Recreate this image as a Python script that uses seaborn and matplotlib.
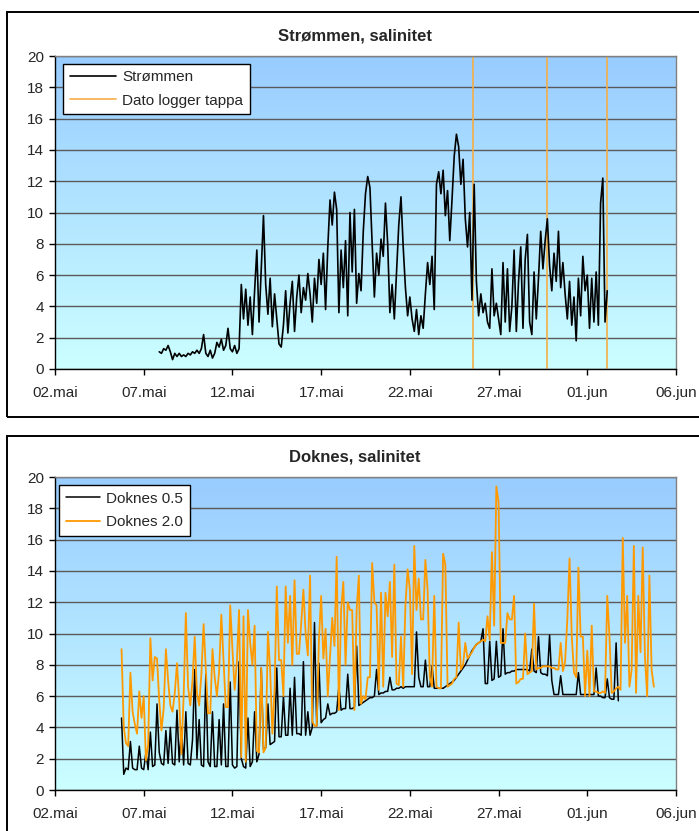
import numpy as np
import pandas as pd
import matplotlib
matplotlib.use('Agg')
import matplotlib.pyplot as plt
from matplotlib.patches import Rectangle
from matplotlib.colors import LinearSegmentedColormap
import seaborn as sns

# time axis: days after 02.mai, logger readings every 3 hours
step = 0.125

# Strømmen salinity, first reading at day 5.875
strommen_start = 5.875
strommen = [
    1.1, 1.0, 1.3, 1.2, 1.5, 1.1, 0.6, 1.0,
    0.8, 1.0, 0.8, 0.9, 0.8, 1.0, 0.9, 1.1,
    1.0, 1.2, 1.0, 1.3, 2.2, 1.0, 0.8, 1.2,
    0.7, 1.0, 1.7, 1.4, 1.9, 1.2, 1.5, 2.6,
    1.3, 1.1, 1.5, 1.0, 1.3, 5.4, 3.2, 5.1,
    2.8, 4.6, 2.2, 5.0, 7.6, 3.0, 6.4, 9.8,
    5.4, 3.5, 5.8, 2.7, 4.8, 3.2, 1.6, 1.4,
    2.8, 5.0, 2.3, 4.2, 5.6, 2.4, 4.6, 6.0,
    3.6, 5.2, 4.4, 6.1, 4.8, 3.0, 5.8, 4.2,
    7.0, 5.4, 7.4, 3.8, 7.8, 10.8, 9.2, 11.3,
    10.2, 3.6, 7.6, 5.2, 8.2, 3.4, 10.0, 6.2,
    10.2, 4.2, 6.1, 5.0, 8.8, 11.2, 12.3, 11.6,
    8.0, 4.6, 7.4, 6.0, 8.3, 7.2, 10.6, 8.0,
    3.6, 5.4, 3.2, 6.2, 9.2, 11.0, 7.8, 5.2,
    3.4, 4.6, 3.2, 2.4, 3.8, 2.2, 3.4, 2.6,
    4.8, 6.8, 5.4, 7.2, 3.8, 11.8, 12.6, 11.2,
    12.7, 9.8, 11.4, 8.2, 10.8, 13.6, 15.0, 14.2,
    11.8, 13.4, 9.6, 7.8, 10.0, 4.4, 11.8, 5.6,
    3.4, 4.8, 3.6, 4.2, 3.0, 2.6, 6.4, 3.4,
    4.2, 3.2, 2.2, 6.8, 3.0, 6.4, 2.4, 4.0,
    7.6, 2.4, 5.6, 7.8, 2.6, 7.0, 8.6, 3.0,
    2.2, 6.2, 3.2, 5.8, 8.8, 6.4, 8.2, 9.6,
    6.6, 5.0, 7.4, 5.6, 8.8, 5.2, 6.8, 4.8,
    3.2, 5.6, 2.8, 4.6, 1.8, 5.8, 3.4, 7.2,
    5.0, 6.0, 2.6, 5.8, 3.0, 6.2, 2.8, 10.6,
    12.2, 3.0, 5.0,
]
logger_tappa = [23.58, 27.72, 31.10]

# Doknes salinity at 0.5 m and 2.0 m, first reading at day 3.75
doknes_start = 3.75
doknes_05 = [
    4.6, 1.0, 1.4, 1.3, 3.1, 1.4, 1.3, 1.3,
    2.8, 1.4, 1.3, 2.4, 1.3, 3.7, 1.5, 1.6,
    5.5, 2.4, 1.7, 1.6, 3.8, 1.7, 4.0, 1.7,
    1.6, 5.1, 1.8, 4.0, 1.6, 5.0, 1.7, 1.6,
    3.2, 7.7, 2.0, 4.5, 1.6, 1.5, 7.4, 1.8,
    1.5, 5.0, 1.5, 1.5, 4.5, 1.6, 5.5, 1.5,
    1.5, 6.9, 1.6, 1.4, 1.5, 8.2, 2.0, 1.5,
    1.4, 4.6, 1.5, 1.8, 5.0, 1.8, 2.3, 7.8,
    2.6, 2.7, 5.5, 2.9, 3.0, 3.1, 7.8, 3.4,
    3.4, 6.0, 3.5, 3.5, 6.5, 3.5, 7.2, 3.6,
    3.6, 3.5, 8.2, 3.5, 5.0, 3.5, 4.0, 10.7,
    4.1, 8.1, 4.3, 4.5, 4.6, 5.5, 4.8, 4.9,
    4.9, 5.0, 6.6, 5.1, 5.2, 5.2, 7.4, 5.2,
    5.2, 5.3, 9.2, 5.4, 5.5, 5.6, 5.7, 5.8,
    5.9, 5.9, 6.0, 7.7, 6.1, 6.2, 6.2, 6.3,
    6.3, 7.2, 6.4, 6.4, 6.5, 6.5, 6.6, 6.5,
    6.6, 6.6, 6.6, 6.6, 6.6, 10.1, 7.2, 6.6,
    6.6, 8.3, 6.6, 6.6, 7.9, 6.5, 6.5, 6.5,
    6.5, 6.5, 6.6, 6.7, 6.8, 6.9, 7.0, 7.2,
    7.4, 7.6, 7.8, 8.0, 8.3, 8.6, 8.9, 9.1,
    9.3, 9.4, 9.5, 10.3, 6.8, 6.8, 9.5, 7.0,
    7.1, 9.5, 7.2, 7.3, 10.3, 7.4, 7.5, 7.5,
    7.6, 7.6, 7.7, 7.7, 7.7, 7.7, 7.7, 7.7,
    7.6, 9.0, 7.6, 7.5, 9.8, 7.5, 7.4, 7.4,
    7.3, 9.9, 7.0, 6.1, 6.1, 6.1, 7.3, 6.1,
    6.1, 6.1, 6.1, 6.1, 6.1, 6.1, 7.5, 6.1,
    6.1, 6.1, 6.1, 6.1, 6.1, 6.1, 7.8, 6.0,
    6.0, 5.9, 5.9, 7.1, 5.9, 5.8, 5.8, 9.4,
    5.7,
]
doknes_20 = [
    9.0, 4.0, 3.0, 2.8, 7.5, 5.0, 4.2, 3.6,
    6.3, 4.6, 6.0, 1.9, 2.9, 9.7, 7.0, 8.5,
    8.4, 5.7, 3.8, 5.2, 9.0, 7.0, 5.4, 5.0,
    6.2, 8.1, 5.7, 2.3, 6.0, 11.3, 6.6, 5.4,
    7.0, 9.8, 6.2, 5.4, 7.4, 10.6, 7.7, 4.9,
    4.9, 9.0, 7.2, 6.0, 7.6, 11.2, 8.3, 5.3,
    5.3, 11.8, 9.0, 6.4, 8.2, 11.5, 2.1, 11.1,
    1.8, 11.5, 9.4, 8.0, 10.5, 2.5, 2.4, 7.8,
    2.4, 2.7, 10.1, 7.7, 3.6, 6.4, 13.0, 8.3,
    8.3, 6.0, 13.0, 9.4, 12.4, 8.0, 13.4, 8.7,
    8.7, 10.6, 12.8, 10.0, 8.6, 13.7, 4.4, 4.1,
    4.1, 9.6, 12.4, 8.4, 10.3, 6.0, 8.5, 11.0,
    9.2, 14.9, 5.1, 11.5, 13.3, 8.0, 12.0, 11.5,
    11.5, 5.1, 11.5, 13.7, 5.5, 6.0, 5.8, 7.2,
    7.2, 14.5, 12.0, 11.8, 6.4, 12.6, 6.6, 12.6,
    11.1, 13.3, 8.5, 14.4, 6.8, 6.7, 9.8, 6.6,
    11.8, 14.1, 12.8, 7.4, 15.6, 11.5, 13.5, 10.9,
    10.9, 14.7, 12.8, 7.2, 6.6, 12.4, 6.6, 6.5,
    6.5, 15.1, 14.4, 6.6, 6.7, 6.8, 7.1, 7.2,
    10.7, 7.7, 8.0, 9.4, 8.4, 8.6, 8.8, 9.1,
    9.3, 9.4, 9.5, 9.6, 9.5, 11.1, 9.6, 15.2,
    10.5, 19.4, 18.4, 9.4, 9.4, 9.4, 11.3, 10.9,
    10.9, 12.4, 6.8, 6.9, 7.1, 7.1, 10.0, 7.4,
    7.5, 7.6, 11.9, 7.7, 7.8, 7.8, 7.9, 7.9,
    7.9, 7.9, 7.8, 7.8, 7.7, 7.7, 9.4, 7.6,
    8.2, 10.9, 14.8, 9.8, 7.5, 7.2, 14.2, 9.8,
    9.8, 6.0, 8.9, 6.0, 10.5, 6.3, 6.3, 6.2,
    6.2, 6.3, 6.2, 12.4, 9.8, 6.2, 6.3, 6.5,
    6.6, 6.4, 16.1, 9.4, 12.4, 6.6, 7.7, 15.6,
    6.2, 12.4, 8.8, 15.5, 8.5, 6.0, 13.7, 7.7,
    6.6,
]

xticks = [0, 5, 10, 15, 20, 25, 30, 35]
xlabels = ['02.mai', '07.mai', '12.mai', '17.mai', '22.mai', '27.mai', '01.jun', '06.jun']
yticks = list(range(0, 21, 2))


def series(start, values):
    return pd.DataFrame({'dag': start + step * np.arange(len(values)), 'salinitet': values})


sns.set_theme(style='white')
plt.rcParams['font.family'] = ['Liberation Sans', 'DejaVu Sans']

fig = plt.figure(figsize=(6.99, 8.31), dpi=100)
fig.patch.set_facecolor('white')

W, H = 699, 831
# chart frames (the right / lower borders run off the picture)
fig.add_artist(Rectangle((7 / W, 1 - 417 / H), 1.2, 405 / H, transform=fig.transFigure,
                         fill=False, ec='black', lw=1.4))
fig.add_artist(Rectangle((7 / W, -0.2), 1.2, 0.2 + 1 - 436 / H, transform=fig.transFigure,
                         fill=False, ec='black', lw=1.4))

ax1 = fig.add_axes([55 / W, 1 - 369 / H, 621 / W, 313 / H])
ax2 = fig.add_axes([55 / W, 1 - 790 / H, 621 / W, 313 / H])

bg = LinearSegmentedColormap.from_list('bg', ['#99CCFF', '#CCFFFF'])


def style_axes(ax):
    ax.imshow(np.linspace(0, 1, 256).reshape(-1, 1), cmap=bg, aspect='auto',
              extent=[0, 1, 0, 1], transform=ax.transAxes, zorder=0)
    ax.set_xlim(0, 35)
    ax.set_ylim(0, 20)
    ax.set_xticks(xticks)
    ax.set_xticklabels(xlabels)
    ax.set_yticks(yticks)
    ax.yaxis.grid(True, color='#5a5a5a', lw=1.0)
    ax.xaxis.grid(False)
    ax.set_axisbelow(True)
    ax.tick_params(axis='both', direction='out', length=4, width=1, color='black',
                   labelsize=11, pad=4, left=True, bottom=True)
    ax.tick_params(axis='x', pad=8)
    for side in ['left', 'bottom']:
        ax.spines[side].set_color('black')
        ax.spines[side].set_linewidth(1.0)
    for side in ['top', 'right']:
        ax.spines[side].set_color('#808080')
        ax.spines[side].set_linewidth(1.0)


# top chart
style_axes(ax1)
sns.lineplot(data=series(strommen_start, strommen), x='dag', y='salinitet', ax=ax1,
             color='black', lw=1.2, label='Strømmen', estimator=None, zorder=3)
for i, d in enumerate(logger_tappa):
    ax1.axvline(d, color='#F5AE45', lw=1.2, zorder=2, snap=True,
                label='Dato logger tappa' if i == 0 else None)
ax1.set_xlabel('')
ax1.set_ylabel('')
leg1 = ax1.legend(loc='upper left', bbox_to_anchor=(0.013, 0.976), borderaxespad=0,
                  fontsize=11, handlelength=3.0, handletextpad=0.4, borderpad=0.45,
                  labelspacing=0.6, fancybox=False, framealpha=1, edgecolor='black')
leg1.get_frame().set_linewidth(1.0)
fig.text(355 / W, 1 - 36 / H, 'Strømmen, salinitet', ha='center', va='center',
         fontsize=12, fontweight='bold')

# bottom chart
style_axes(ax2)
sns.lineplot(data=series(doknes_start, doknes_05), x='dag', y='salinitet', ax=ax2,
             color='black', lw=1.1, label='Doknes 0.5', estimator=None, zorder=3)
sns.lineplot(data=series(doknes_start, doknes_20), x='dag', y='salinitet', ax=ax2,
             color='#FF9900', lw=1.3, label='Doknes 2.0', estimator=None, zorder=4)
ax2.set_xlabel('')
ax2.set_ylabel('')
leg2 = ax2.legend(loc='upper left', bbox_to_anchor=(0.007, 0.975), borderaxespad=0,
                  fontsize=11, handlelength=2.2, handletextpad=0.4, borderpad=0.45,
                  labelspacing=0.6, fancybox=False, framealpha=1, edgecolor='black')
leg2.get_frame().set_linewidth(1.0)
fig.text(355 / W, 1 - 457 / H, 'Doknes, salinitet', ha='center', va='center',
         fontsize=12, fontweight='bold')

fig.savefig('out.png', dpi=100)
